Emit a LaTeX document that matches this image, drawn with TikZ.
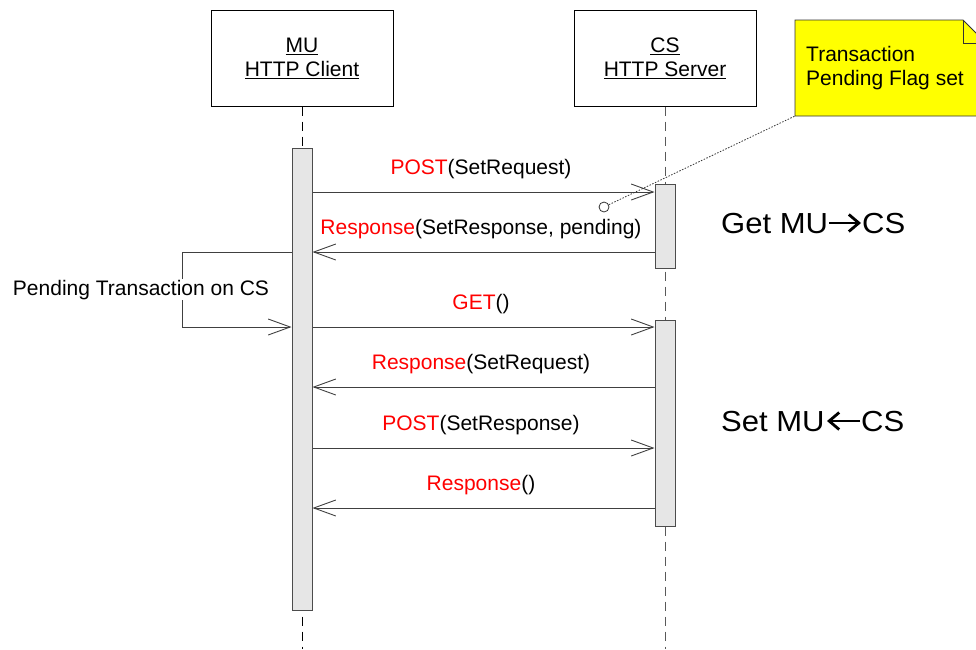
\documentclass[tikz,border=0pt]{standalone}
\usepackage{fontspec}
\setmainfont{Liberation Sans}
\newfontfamily\bigfont[FakeStretch=1.07]{Liberation Sans}
\usetikzlibrary{arrows.meta}
\definecolor{actfill}{HTML}{E6E6E6}
\definecolor{notefill}{HTML}{FFFF00}
\begin{document}
\begin{tikzpicture}[x=1pt,y=-1pt,
  every node/.style={font=\fontsize{21}{24}\selectfont, inner sep=0pt},
  headbox/.style={draw=black, line width=1pt, minimum width=182pt, minimum height=96pt, fill=white, align=center},
  act/.style={draw=black!70, fill=actfill, line width=1pt, minimum width=20pt},
  msg/.style={draw=black!75, line width=0.9pt, -{Straight Barb[length=22pt,width=16pt,line width=0.9pt]}},
  life/.style={dash pattern=on 9pt off 6pt, line width=1pt},
  lbl/.style={anchor=base},
  big/.style={anchor=base west, font=\bigfont\fontsize{29}{34}\selectfont},
  bigarrow/.style={line width=2.8pt, -{Straight Barb[length=10pt,width=17pt,line width=2.8pt]}}]
\useasboundingbox (0,0) rectangle (976,649);
% header boxes
\node[headbox] (mu) at (302,58) {\underline{MU}\\\underline{HTTP Client}};
\node[headbox] (cs) at (665,58) {\underline{CS}\\\underline{HTTP Server}};
\coordinate (mubot) at (302,649);
\coordinate (csbot) at (665,649);
\draw[life, black] (mu.south) -- (mubot);
\draw[life, black!65] (cs.south) -- (csbot);
% activations
\node[act, minimum height=462pt] (mact) at (302,379) {};
\node[act, minimum height=84pt] (cact1) at (665,226) {};
\node[act, minimum height=206pt] (cact2) at (665,423) {};
% message y levels
\coordinate (y1) at (0,192);
\coordinate (y2) at (0,252);
\coordinate (y3) at (0,327);
\coordinate (y4) at (0,387);
\coordinate (y5) at (0,448);
\coordinate (y6) at (0,508);
\coordinate (sl1) at (182,252);
\coordinate (sl2) at (182,327);
% messages
\draw[msg] (mact.east |- y1) -- (cact1.west |- y1);
\draw[msg] (cact1.west |- y2) -- (mact.east |- y2);
\draw[msg] (mact.west |- y2) -- (sl1) -- (sl2) -- (mact.west |- y3);
\draw[msg] (mact.east |- y3) -- (cact2.west |- y3);
\draw[msg] (cact2.west |- y4) -- (mact.east |- y4);
\draw[msg] (mact.east |- y5) -- (cact2.west |- y5);
\draw[msg] (cact2.west |- y6) -- (mact.east |- y6);
% labels
\node[lbl] (l1) at (481,174) {\textcolor{red}{POST}(SetRequest)};
\node[lbl] (l2) at (481,234) {\textcolor{red}{Response}(SetResponse, pending)};
\node[lbl] (l3) at (481,309) {\textcolor{red}{GET}()};
\node[lbl] (l4) at (481,369) {\textcolor{red}{Response}(SetRequest)};
\node[lbl] (l5) at (481,430) {\textcolor{red}{POST}(SetResponse)};
\node[lbl] (l6) at (481,490) {\textcolor{red}{Response}()};
\node[lbl, fill=white, inner sep=1pt] (lself) at (141,295) {Pending Transaction on CS};
% note
\draw[fill=notefill, draw=black!80, line width=0.9pt] (795,20) -- (963,20) -- (986,43) -- (986,116) -- (795,116) -- cycle;
\draw[draw=black!80, line width=0.9pt] (963,20) -- (963,43) -- (986,43);
\node[anchor=base west] (n1) at (806,61) {Transaction};
\node[anchor=base west] (n2) at (806,85) {Pending Flag set};
\coordinate (nc) at (795,116);
\node[circle, draw=black!80, fill=white, minimum size=10pt, line width=0.8pt] (circ) at (604,207) {};
\draw[black!80, line width=0.8pt, dash pattern=on 1.5pt off 1.5pt] (circ) -- (nc);
% big labels
\node[big] (g1) at (721,233) {Get MU};
\node[big] (g2) at (862,233) {CS};
\coordinate (ga1) at (829,223);
\coordinate (ga2) at (861,223);
\draw[bigarrow] (ga1) -- (ga2);
\node[big] (s1) at (721,431) {Set MU};
\node[big] (s2) at (861,431) {CS};
\coordinate (sa1) at (860,421);
\coordinate (sa2) at (827,421);
\draw[bigarrow] (sa1) -- (sa2);
\end{tikzpicture}
\end{document}
